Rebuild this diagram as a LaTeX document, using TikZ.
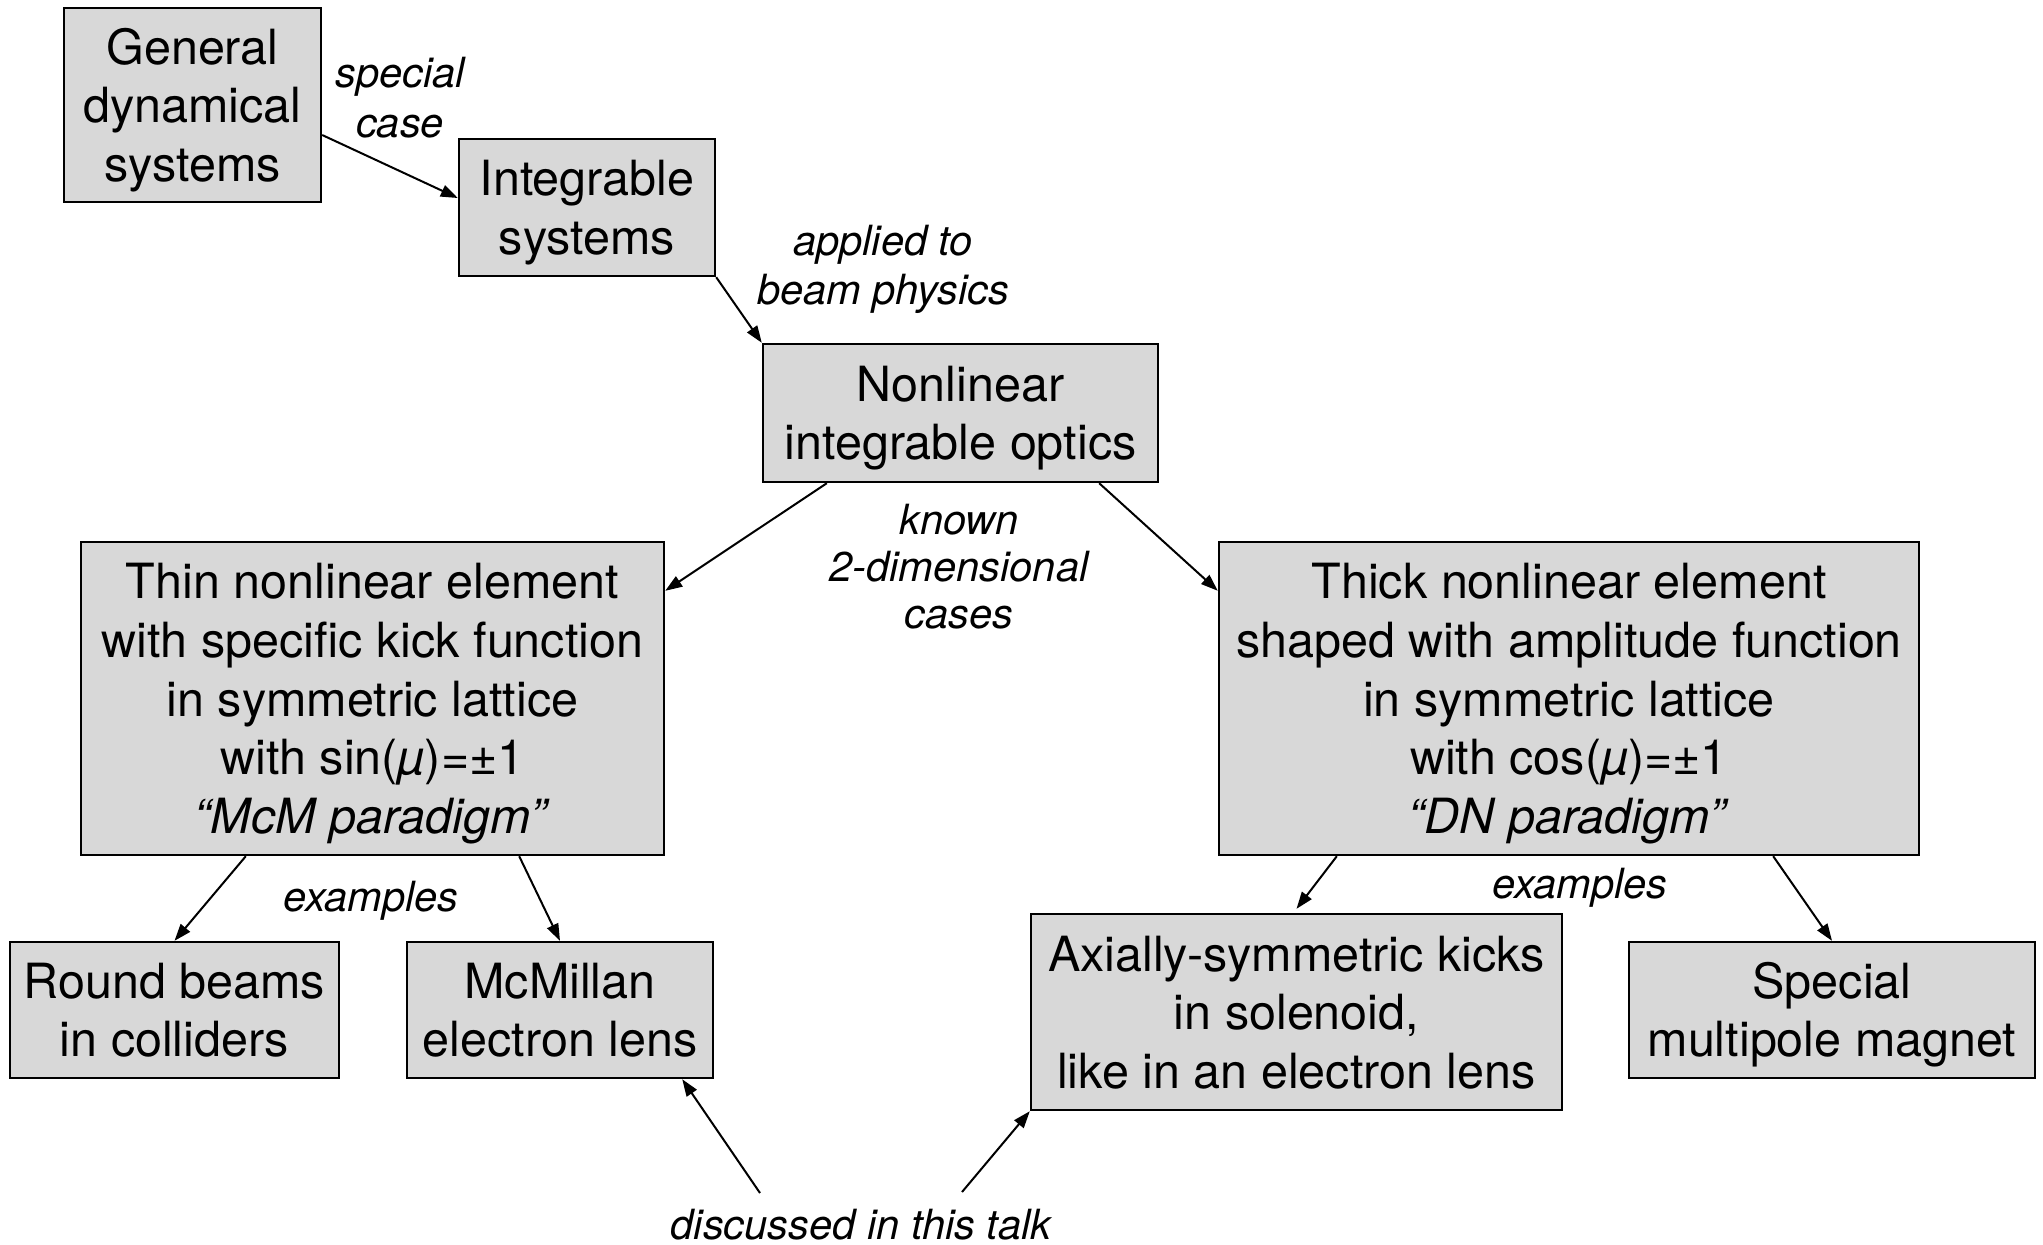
\documentclass[tikz,border=0pt]{standalone}
\usepackage{fontspec}
\setmainfont{TeX Gyre Heros}
\usetikzlibrary{arrows.meta}
\definecolor{boxgray}{RGB}{216,216,216}
\newcommand\bst{\rule[-5.7pt]{0pt}{29pt}}
\newcommand\lst{\rule[-4.2pt]{0pt}{23.4pt}}
\tikzset{
  box/.style={draw=black, line width=1.2pt, fill=boxgray, inner sep=0pt, align=center,
    font=\fontsize{24.25pt}{29.3pt}\selectfont},
  lbl/.style={inner sep=0pt, align=center, font=\fontsize{20.8pt}{23.5pt}\selectfont\itshape},
  arr/.style={line width=1pt, -{Triangle[length=8.5pt,width=6pt]}}
}
\begin{document}
\begin{tikzpicture}[x=0.5pt, y=-0.5pt]
\useasboundingbox (0,0) rectangle (2043,1244);
% boxes
\node[box, minimum width=128.5pt, minimum height=97pt] (gen) at (192.5,105) {\bst General\\\bst dynamical\\\bst systems};
\node[box, minimum width=128pt, minimum height=68.5pt] (integ) at (587,207.5) {\bst Integrable\\\bst systems};
\node[box, minimum width=197.5pt, minimum height=69pt] (nio) at (960.5,413) {\bst Nonlinear\\\bst integrable optics};
\node[box, minimum width=291.5pt, minimum height=156.5pt] (thin) at (372.5,698.5) {\bst Thin nonlinear element\\\bst with specific kick function\\\bst in symmetric lattice\\\bst with sin(\textit{µ})=±1\\\bst\textit{“McM paradigm”}};
\node[box, minimum width=350pt, minimum height=156.5pt] (thick) at (1569,698.5) {\bst Thick nonlinear element\\\bst shaped with amplitude function\\\bst in symmetric lattice\\\bst with cos(\textit{µ})=±1\\\bst\textit{“DN paradigm”}};
\node[box, minimum width=164.5pt, minimum height=68pt] (round) at (174.5,1010) {\bst Round beams\\\bst in colliders};
\node[box, minimum width=153pt, minimum height=68pt] (mcm) at (560,1010) {\bst McMillan\\\bst electron lens};
\node[box, minimum width=265.5pt, minimum height=98pt] (axial) at (1296.5,1012) {\bst Axially-symmetric kicks\\\bst in solenoid,\\\bst like in an electron lens};
\node[box, minimum width=203pt, minimum height=68pt] (special) at (1832,1010) {\bst Special\\\bst multipole magnet};
% labels
\node[lbl] (lspecial) at (400,97.5) {\lst special\\\lst case};
\node[lbl] (lapplied) at (883,265.5) {\lst applied to\\\lst beam physics};
\node[lbl] (lknown) at (959,566.5) {\lst known\\\lst 2-dimensional\\\lst cases};
\node[lbl] (lex1) at (371,897) {\lst examples};
\node[lbl] (lex2) at (1580,884) {\lst examples};
\node[lbl] (ltalk) at (861,1224) {\lst discussed in this talk};
\coordinate (t1) at (760,1193);
\coordinate (t2) at (962,1192);
% connectors
\draw[arr] ([shift={(0,30)}]gen.east) -- ([shift={(0,-9.5)}]integ.west);
\draw[arr] (integ.south east) -- (nio.north west);
\draw[arr] ([shift={(65,0)}]nio.south west) -- ([shift={(0,50)}]thin.north east);
\draw[arr] ([shift={(-60,0)}]nio.south east) -- ([shift={(0,50)}]thick.north west);
\draw[arr] ([shift={(166,0)}]thin.south west) -- (round.north);
\draw[arr] ([shift={(-146,0)}]thin.south east) -- (mcm.north);
\draw[arr] ([shift={(119,0)}]thick.south west) -- ([shift={(0,-4)}]axial.north);
\draw[arr] ([shift={(-147,0)}]thick.south east) -- (special.north);
\draw[arr] (t1) -- ([shift={(-32,0)}]mcm.south east);
\draw[arr] (t2) -- (axial.south west);
\end{tikzpicture}
\end{document}
